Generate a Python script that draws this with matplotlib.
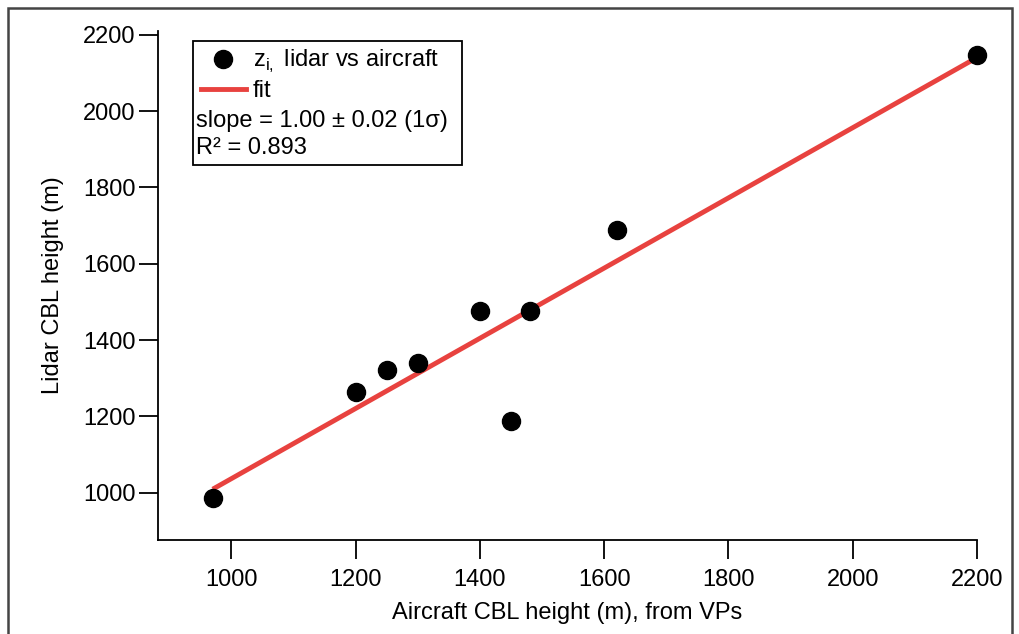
import numpy as np
import matplotlib
matplotlib.use("Agg")
import matplotlib.pyplot as plt
from matplotlib.patches import Rectangle
from matplotlib.lines import Line2D

plt.rcParams['font.family'] = ['Liberation Sans', 'DejaVu Sans']

aircraft = [970, 1200, 1250, 1300, 1400, 1450, 1480, 1620, 2200]
lidar = [987, 1265, 1322, 1341, 1475, 1189, 1475, 1688, 2148]
xticks = [1000, 1200, 1400, 1600, 1800, 2000, 2200]
yticks = [1000, 1200, 1400, 1600, 1800, 2000, 2200]
slope_text = "slope = 1.00 \u00b1 0.02 (1\u03c3)"
r2_text = "R\u00b2 = 0.893"

FS = 17
fig = plt.figure(figsize=(10.19, 6.34), dpi=100)
ax = fig.add_axes([158/1019, 1-540/634, (977-158)/1019, (540-31)/634])

# outer frame
fig.patches.append(Rectangle((8/1019, -0.05), (1012-8)/1019, 1.05 - 8/634,
                             transform=fig.transFigure, fill=False,
                             edgecolor='#444444', linewidth=1.8))

p = np.polyfit(aircraft, lidar, 1)
xf = np.array([min(aircraft), max(aircraft)])
ax.plot(xf, np.polyval(p, xf), color='#e8423f', lw=3.5, zorder=2,
        solid_capstyle='butt')
ax.plot(aircraft, lidar, 'o', color='black', ms=13, zorder=3, linestyle='none',
        clip_on=False)

ax.set_xlim(882, 2200)
ax.set_ylim(876, 2210)
ax.set_xticks(xticks)
ax.set_yticks(yticks)
ax.spines['top'].set_visible(False)
ax.spines['right'].set_visible(False)
for s in ['left', 'bottom']:
    ax.spines[s].set_linewidth(1.3)
ax.tick_params(direction='out', length=14, width=1.3, labelsize=FS)
ax.tick_params(axis='x', pad=7)
ax.tick_params(axis='y', pad=2)
ax.set_xlabel('Aircraft CBL height (m), from VPs', fontsize=FS, labelpad=8)
ax.set_ylabel('Lidar CBL height (m)', fontsize=FS, labelpad=14)

# legend box
x0, y0 = (193-158)/819, (540-165)/509
w, h = (462-193)/819, (165-41)/509
ax.add_patch(Rectangle((x0, y0), w, h, transform=ax.transAxes, fill=False,
                       edgecolor='black', lw=1.3, zorder=5))
handles = [Line2D([], [], marker='o', color='black', ms=13, linestyle='none'),
           Line2D([], [], color='#e8423f', lw=3.5)]
labels = ['z$_{\\mathregular{i,}}$ lidar vs aircraft', 'fit']
ax.legend(handles, labels, loc='upper left',
          bbox_to_anchor=((201-158)/819, 1 - 17/509),
          bbox_transform=ax.transAxes, frameon=False, fontsize=FS,
          handlelength=1.9, handletextpad=0.3, borderaxespad=0, borderpad=0.0,
          labelspacing=0.2)
ax.text((196-158)/819, (540-121)/509, slope_text, transform=ax.transAxes,
        fontsize=FS, va='center', ha='left')
ax.text((196-158)/819, (540-148)/509, r2_text, transform=ax.transAxes,
        fontsize=FS, va='center', ha='left')

fig.savefig('out.png', dpi=100)
